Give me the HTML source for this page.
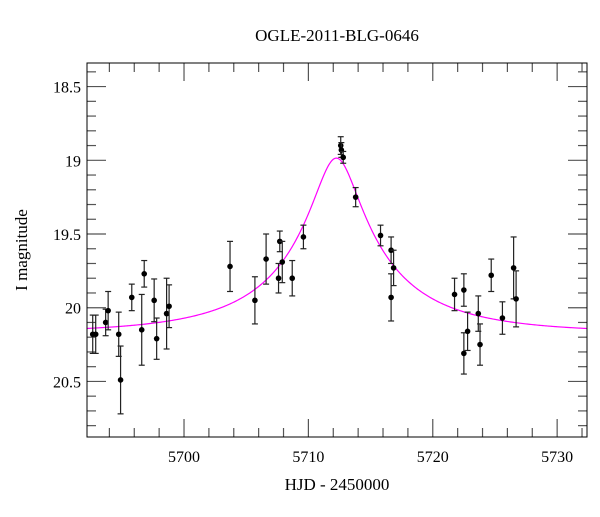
<!DOCTYPE html>
<html><head><meta charset="utf-8"><style>
body{margin:0;background:#fff;width:600px;height:512px;overflow:hidden}
text{font-family:"Liberation Serif",serif;fill:#000}
</style></head><body>
<svg id="chart" width="600" height="512" xmlns="http://www.w3.org/2000/svg">
<text x="337" y="41" font-size="17" text-anchor="middle">OGLE-2011-BLG-0646</text>
<text x="337" y="490" font-size="17" text-anchor="middle">HJD - 2450000</text>
<text transform="translate(27,250) rotate(-90)" font-size="17" text-anchor="middle">I magnitude</text>
<g id="ticks"></g><g id="curve"></g><g id="points"></g>
<rect x="87" y="63" width="500" height="374" fill="none" stroke="#000" stroke-width="1"/>
</svg>
<script>
const hjd=[5692.66,5692.9,5693.7,5693.9,5694.75,5694.9,5695.8,5696.8,5696.6,5697.6,5697.8,5698.6,5698.8,5703.7,5705.7,5706.6,5707.6,5707.7,5707.9,5708.7,5709.6,5712.6,5712.65,5712.8,5713.8,5715.8,5716.65,5716.85,5716.65,5721.75,5722.5,5722.5,5722.8,5723.66,5723.8,5724.7,5725.6,5726.5,5726.7];
const mag=[20.18,20.18,20.10,20.02,20.18,20.49,19.93,19.77,20.15,19.95,20.21,20.04,19.99,19.72,19.95,19.67,19.80,19.55,19.69,19.80,19.52,18.90,18.93,18.98,19.25,19.51,19.61,19.73,19.93,19.91,19.88,20.31,20.16,20.04,20.25,19.78,20.07,19.73,19.94];
const err=[0.13,0.13,0.09,0.13,0.15,0.23,0.09,0.09,0.24,0.145,0.14,0.24,0.145,0.17,0.16,0.17,0.1,0.07,0.14,0.12,0.08,0.06,0.05,0.04,0.065,0.07,0.09,0.12,0.16,0.11,0.11,0.14,0.13,0.12,0.14,0.11,0.11,0.21,0.19];
const xTicks=[5700,5710,5720,5730];
const yTicks=[18.5,19,19.5,20,20.5];
const model={t0:5712.25,tE:10.5,u0:0.17,fs:0.4,base:20.17};
const X0=5692.2,X1=5732.4,Y0=18.34,Y1=20.877;
const L=87,R=587,T=63,B=437;
const sx=v=>L+(v-X0)/(X1-X0)*(R-L);
const sy=v=>T+(v-Y0)/(Y1-Y0)*(B-T);
const NS="http://www.w3.org/2000/svg";
function mk(tag,attrs,parent){const e=document.createElementNS(NS,tag);for(const k in attrs)e.setAttribute(k,attrs[k]);parent.appendChild(e);return e;}
const tg=document.getElementById('ticks');
for(let d=5694;d<=5732;d+=2){
 const x=sx(d);const major=d%10===0;const len=major?18:9;
 const t1=mk('line',{x1:x,x2:x,y1:B,y2:B-len,stroke:'#555','stroke-width':1.2},tg);
 
 
 const t2=mk('line',{x1:x,x2:x,y1:T,y2:T+len,stroke:'#555','stroke-width':1.2},tg);
 
 
}
xTicks.forEach(v=>{const t=mk('text',{x:sx(v),y:B+25,'font-size':16,'text-anchor':'middle'},tg);t.textContent=v;
 
 });
for(let i=184;i<=208;i++){const m=i/10;const y=sy(m);if(y<T||y>B)continue;const major=i%5===0;const len=major?19:9;
 const t1=mk('line',{x1:L,x2:L+len,y1:y,y2:y,stroke:'#555','stroke-width':1.2},tg);
 
 
 const t2=mk('line',{x1:R,x2:R-len,y1:y,y2:y,stroke:'#555','stroke-width':1.2},tg);
 
 
}
yTicks.forEach(v=>{const t=mk('text',{x:L-6,y:sy(v)+6,'font-size':16,'text-anchor':'end'},tg);t.textContent=String(v);
 
 });
let pts=[];
for(let i=0;i<=500;i++){const t=X0+(X1-X0)*i/500;const tau=(t-model.t0)/model.tE;const u=Math.sqrt(model.u0*model.u0+tau*tau);
 const A=(u*u+2)/(u*Math.sqrt(u*u+4));const Ao=model.fs*A+1-model.fs;const m=model.base-2.5*Math.log10(Ao);
 pts.push(sx(t).toFixed(2)+','+sy(m).toFixed(2));}
const cv=mk('polyline',{points:pts.join(' '),fill:'none',stroke:'#ff00ff','stroke-width':1.2},document.getElementById('curve'));


const pg=document.getElementById('points');
hjd.forEach((d,i)=>{const x=sx(d),y=sy(mag[i]),y1=sy(mag[i]-err[i]),y2=sy(mag[i]+err[i]);
 const g=mk('g',{},pg);
 
 
 mk('line',{x1:x,x2:x,y1:y1,y2:y2,stroke:'#222','stroke-width':1.2},g);
 mk('line',{x1:x-3,x2:x+3,y1:y1,y2:y1,stroke:'#222','stroke-width':1.2},g);
 mk('line',{x1:x-3,x2:x+3,y1:y2,y2:y2,stroke:'#222','stroke-width':1.2},g);
 mk('circle',{cx:x,cy:y,r:2.8,fill:'#000'},g);
});
</script>
</body></html>
